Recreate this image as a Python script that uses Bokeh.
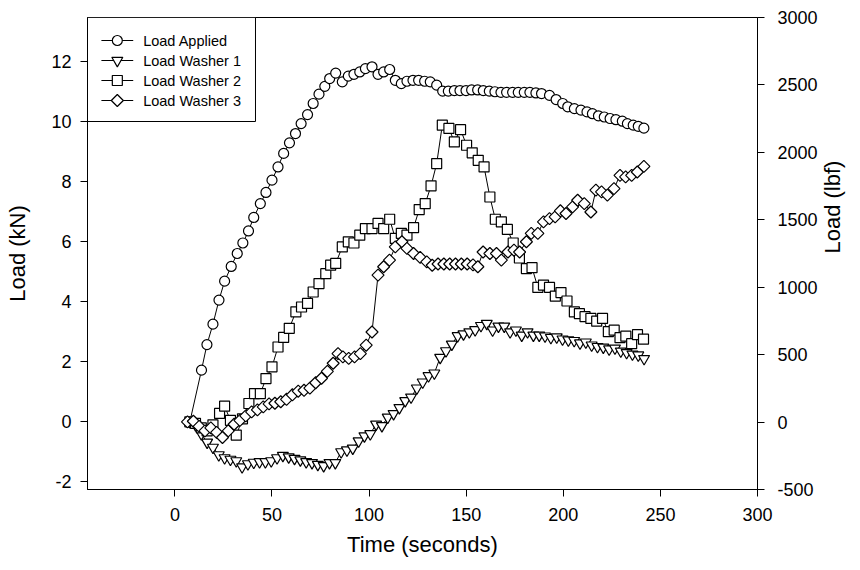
import math

from bokeh.core.properties import value
from bokeh.embed import file_html
from bokeh.models import (ColumnDataSource, FixedTicker, LinearAxis,
                          PrintfTickFormatter, Range1d)
from bokeh.plotting import figure
from bokeh.resources import INLINE

FONT = "Liberation Sans"

# Load Applied (kN) against time (s)
applied_t = [7.7, 13.7, 16.5, 19.6, 22.7, 25.6, 29.0, 32.1, 35.0, 37.9,
             40.6, 44.0, 46.9, 50.0, 53.1, 56.0, 59.0, 62.1, 65.0, 68.3,
             71.2, 74.2, 77.2, 79.7, 82.8, 86.2, 89.3, 92.2, 95.2, 98.1,
             101.5, 104.6, 107.5, 110.6, 113.5, 116.6, 119.5, 122.6, 125.5, 128.6,
             131.5, 134.8, 137.9, 140.8, 143.9, 146.8, 149.9, 152.8, 155.9, 158.8,
             161.9, 164.8, 167.9, 170.8, 173.9, 176.8, 179.9, 182.8, 185.9, 188.8,
             192.9, 196.3, 199.7, 202.3, 205.7, 209.1, 212.2, 215.0, 218.1, 221.1,
             224.1, 227.1, 230.4, 233.0, 236.0, 238.6, 241.5]
applied_kn = [0.0, 1.72, 2.57, 3.25, 4.05, 4.68, 5.17, 5.60, 5.95, 6.35,
              6.80, 7.26, 7.63, 8.04, 8.48, 8.93, 9.28, 9.59, 9.92, 10.22,
              10.59, 10.90, 11.16, 11.42, 11.60, 11.31, 11.50, 11.56, 11.64, 11.75,
              11.81, 11.56, 11.64, 11.72, 11.36, 11.25, 11.33, 11.36, 11.36, 11.33,
              11.31, 11.20, 11.00, 11.00, 11.02, 11.02, 11.02, 11.04, 11.04, 11.02,
              11.00, 10.98, 10.96, 10.96, 10.96, 10.96, 10.96, 10.96, 10.94, 10.92,
              10.86, 10.72, 10.59, 10.48, 10.42, 10.37, 10.31, 10.25, 10.18, 10.14,
              10.09, 10.05, 10.00, 9.92, 9.87, 9.83, 9.77]

# Load Washer 1
washer1_t = [7.7, 10.6, 13.6, 16.6, 19.6, 22.6, 25.6, 28.6, 31.6, 34.6,
             37.6, 40.6, 43.6, 46.6, 49.6, 52.6, 55.6, 58.6, 61.6, 64.6,
             67.6, 70.6, 73.6, 76.6, 79.6, 82.6, 85.6, 88.6, 91.6, 94.6,
             97.6, 100.6, 103.6, 106.6, 109.6, 112.6, 115.6, 118.6, 121.6, 124.6,
             127.6, 130.6, 133.6, 136.6, 139.6, 142.6, 145.6, 148.6, 151.6, 154.6,
             157.6, 160.6, 163.6, 166.6, 169.6, 172.6, 175.6, 178.6, 181.6, 184.6,
             187.6, 190.6, 193.6, 196.6, 199.6, 202.6, 205.6, 208.6, 211.6, 214.6,
             217.6, 220.6, 223.6, 226.6, 229.6, 232.6, 235.6, 238.6, 241.6]
washer1_kn = [0.0, -0.10, -0.40, -0.68, -0.85, -1.10, -1.20, -1.25, -1.30, -1.50,
              -1.40, -1.35, -1.33, -1.33, -1.30, -1.20, -1.12, -1.17, -1.22, -1.27,
              -1.33, -1.36, -1.42, -1.46, -1.36, -1.36, -1.00, -0.94, -0.88, -0.64,
              -0.47, -0.40, -0.08, -0.13, 0.15, 0.27, 0.47, 0.70, 0.82, 1.12,
              1.32, 1.53, 1.62, 2.14, 2.36, 2.58, 2.86, 2.92, 2.99, 3.06,
              3.20, 3.27, 3.05, 3.18, 3.18, 2.99, 3.05, 2.88, 2.99, 2.88,
              2.88, 2.85, 2.80, 2.82, 2.75, 2.72, 2.70, 2.62, 2.65, 2.55,
              2.50, 2.48, 2.42, 2.45, 2.35, 2.30, 2.25, 2.22, 2.10]

# Load Washer 2
washer2_t = [7.7, 10.6, 13.6, 16.6, 19.6, 23.0, 25.6, 28.6, 31.6, 34.8,
             38.1, 41.0, 44.0, 46.9, 50.0, 53.1, 56.0, 58.9, 62.3, 65.2,
             68.3, 71.2, 74.2, 77.7, 80.2, 82.8, 86.2, 89.3, 92.2, 95.2,
             98.1, 101.5, 104.6, 107.5, 110.6, 113.5, 116.6, 119.5, 122.9, 125.8,
             128.9, 131.9, 134.8, 137.7, 141.1, 143.9, 147.1, 150.2, 153.1, 156.2,
             159.2, 162.2, 165.0, 168.1, 171.2, 174.2, 177.4, 181.0, 183.9, 186.9,
             189.8, 192.9, 195.9, 198.8, 201.9, 205.7, 208.3, 211.2, 214.2, 217.2,
             220.2, 223.2, 226.2, 229.2, 232.2, 235.2, 238.2, 241.3]
washer2_kn = [0.0, -0.05, -0.20, -0.30, -0.10, 0.28, 0.52, 0.05, -0.44, 0.10,
              0.61, 0.94, 0.94, 1.44, 1.83, 2.49, 2.81, 3.11, 3.66, 3.82,
              3.94, 4.32, 4.60, 4.93, 5.21, 5.27, 5.82, 5.99, 5.95, 6.21,
              6.43, 6.43, 6.60, 6.43, 6.74, 6.10, 6.27, 6.21, 6.46, 7.06,
              7.26, 7.85, 8.59, 9.87, 9.76, 9.31, 9.72, 9.20, 8.95, 8.70,
              8.48, 7.48, 6.74, 6.65, 6.40, 5.95, 5.45, 5.10, 5.13, 4.47,
              4.55, 4.47, 4.18, 4.30, 4.02, 3.66, 3.60, 3.50, 3.44, 3.35,
              3.44, 3.00, 3.05, 2.80, 2.85, 2.60, 2.90, 2.75]

# Load Washer 3
washer3_t = [6.5, 9.5, 12.5, 15.5, 18.5, 21.5, 24.5, 27.5, 30.5, 33.5,
             36.5, 39.5, 42.5, 45.5, 48.5, 51.5, 54.5, 57.5, 60.5, 63.5,
             66.5, 69.5, 72.5, 75.5, 78.5, 81.5, 84.0, 86.5, 89.5, 92.5,
             95.5, 98.5, 101.5, 104.6, 107.5, 110.5, 113.5, 116.9, 119.5, 122.9,
             126.3, 129.7, 132.5, 135.5, 138.5, 141.5, 144.5, 147.5, 150.5, 153.5,
             156.0, 158.7, 162.2, 165.6, 168.1, 171.5, 174.6, 177.5, 181.0, 183.5,
             186.9, 189.8, 192.9, 195.8, 198.5, 201.4, 204.8, 207.4, 210.8, 214.2,
             216.8, 219.7, 222.7, 226.1, 229.2, 232.1, 235.2, 238.1, 241.5]
washer3_kn = [0.0, 0.02, -0.15, -0.30, -0.20, -0.35, -0.52, -0.30, -0.08, 0.05,
              0.20, 0.33, 0.40, 0.50, 0.60, 0.62, 0.67, 0.75, 0.90, 1.02,
              1.05, 1.12, 1.30, 1.45, 1.68, 1.95, 2.27, 2.16, 2.11, 2.16,
              2.27, 2.55, 2.99, 4.88, 5.16, 5.38, 5.82, 5.99, 5.77, 5.60,
              5.47, 5.32, 5.21, 5.25, 5.25, 5.25, 5.25, 5.25, 5.25, 5.22,
              5.16, 5.65, 5.60, 5.60, 5.38, 5.65, 5.71, 5.65, 5.99, 6.27,
              6.27, 6.65, 6.76, 6.82, 7.02, 6.93, 7.15, 7.37, 7.26, 6.98,
              7.71, 7.65, 7.54, 7.76, 8.20, 8.15, 8.20, 8.31, 8.50]

series_names = ["Load Applied", "Load Washer 1", "Load Washer 2", "Load Washer 3"]

x_ticks = [0, 50, 100, 150, 200, 250, 300]
kn_ticks = [-2, 0, 2, 4, 6, 8, 10, 12]
lbf_ticks = [-500, 0, 500, 1000, 1500, 2000, 2500, 3000]

# frame geometry (pixels)
FRAME_W, FRAME_H = 674, 472

p = figure(width=860, height=570, output_backend="svg", toolbar_location=None,
           x_range=Range1d(-45, 300), y_range=Range1d(-2.25, 13.45),
           min_border_left=87, min_border_right=99,
           min_border_top=17, min_border_bottom=81)
p.extra_y_ranges = {"lbf": Range1d(-500, 3000),
                    "key_y": Range1d(FRAME_H, 0)}
p.extra_x_ranges = {"key_x": Range1d(0, FRAME_W)}
p.xgrid.visible = False
p.ygrid.visible = False
p.background_fill_color = "white"
p.border_fill_color = "white"
p.outline_line_color = "black"
p.outline_line_alpha = 1.0
p.outline_line_width = 1


def style_axis(ax, ticks, label, label_standoff, title_standoff):
    ax.ticker = FixedTicker(ticks=ticks)
    ax.formatter = PrintfTickFormatter(format="%d")
    ax.axis_label = label
    ax.major_tick_out = 7
    ax.major_tick_in = 0
    ax.minor_tick_out = 0
    ax.minor_tick_in = 0
    ax.axis_line_color = "black"
    ax.axis_line_width = 1
    ax.major_tick_line_color = "black"
    ax.major_tick_line_width = 1
    ax.major_label_text_font = FONT
    ax.major_label_text_font_size = "18px"
    ax.major_label_text_color = "black"
    ax.major_label_standoff = label_standoff
    ax.axis_label_text_font = FONT
    ax.axis_label_text_font_size = "22px"
    ax.axis_label_text_font_style = "normal"
    ax.axis_label_text_color = "black"
    ax.axis_label_standoff = title_standoff


style_axis(p.xaxis[0], x_ticks, "Time (seconds)", 11, 8)
style_axis(p.yaxis[0], kn_ticks, "Load (kN)", 9, 18)

# secondary scale in pounds-force, title reading bottom to top like the left one
lbf_axis = LinearAxis(y_range_name="lbf")
style_axis(lbf_axis, lbf_ticks, "Load (lbf)", 13, 12)
lbf_axis.axis_label_orientation = math.pi / 2
p.add_layout(lbf_axis, "right")

# marker style per series: (marker, size, angle)
styles = [("circle", 10, 0.0),
          ("inverted_triangle", 11, 0.0),
          ("square", 10, 0.0),
          ("square", 8.5, math.pi / 4)]   # square turned 45 degrees = diamond

data = [(applied_t, applied_kn), (washer1_t, washer1_kn),
        (washer2_t, washer2_kn), (washer3_t, washer3_kn)]

for (t, kn), (marker, size, angle) in zip(data, styles):
    src = ColumnDataSource(dict(t=t, kn=kn))
    p.line("t", "kn", source=src, line_color="black", line_width=1)
    p.scatter("t", "kn", source=src, marker=marker, size=size, angle=angle,
              fill_color="white", line_color="black", line_width=1.2)

# key box in the top-left corner of the frame, laid out in frame pixels
KEY_W, KEY_H = 169, 104
KEY_ROW0, KEY_ROW_STEP = 23, 20
KEY_LINE_X0, KEY_LINE_X1, KEY_SYMBOL_X, KEY_TEXT_X = 14, 46, 30, 56
key = dict(x_range_name="key_x", y_range_name="key_y")

p.quad(left=0, right=KEY_W, top=0, bottom=KEY_H, fill_color="white",
       line_color="black", line_width=1, **key)
for i, (name, (marker, size, angle)) in enumerate(zip(series_names, styles)):
    row = KEY_ROW0 + i * KEY_ROW_STEP
    p.segment(x0=KEY_LINE_X0, y0=row, x1=KEY_LINE_X1, y1=row,
              line_color="black", line_width=1, **key)
    p.scatter(x=[KEY_SYMBOL_X], y=[row], marker=marker, size=size, angle=angle,
              fill_color="white", line_color="black", line_width=1.2, **key)
    p.text(x=[KEY_TEXT_X], y=[row], text=[name], text_baseline="middle",
           text_align="left", text_font=value(FONT), text_font_size="14.5px",
           text_color="black", **key)

open("out.html", "w").write(file_html(p, INLINE))
